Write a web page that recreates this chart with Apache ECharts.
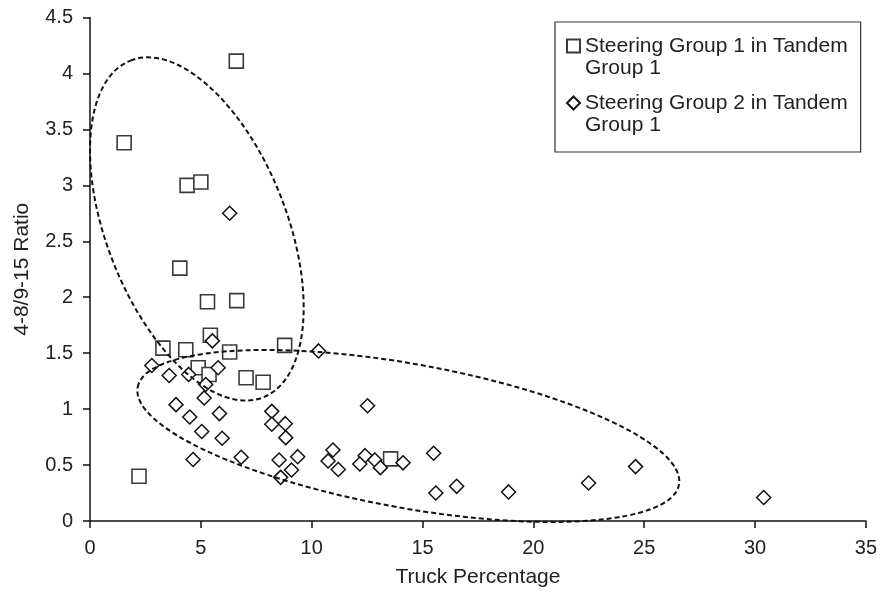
<!DOCTYPE html>
<html>
<head>
<meta charset="utf-8">
<script src="https://cdn.jsdelivr.net/npm/echarts@6/dist/echarts.min.js"></script>
<style>
html,body{margin:0;padding:0;background:#fff;}
#chart{width:880px;height:593px;}
</style>
</head>
<body>
<div id="chart"></div>
<script>
// ---- data ----
const seriesNames = ["Steering Group 1 in Tandem Group 1", "Steering Group 2 in Tandem Group 1"];

const group1X = [6.60, 1.54, 4.38, 5.00, 4.05, 5.30, 6.62, 5.43, 3.29, 4.32, 6.30, 8.78, 4.88, 5.37, 7.04, 7.81, 2.21, 13.56];
const group1Y = [4.11, 3.38, 3.00, 3.03, 2.26, 1.96, 1.97, 1.66, 1.545, 1.53, 1.51, 1.57, 1.37, 1.31, 1.28, 1.24, 0.40, 0.555];

const group2X = [6.30, 5.52, 10.31, 2.79, 3.57, 4.45, 5.78, 5.22, 5.15, 3.88, 4.50, 5.84, 5.04, 5.96, 4.65, 6.82,
                 8.20, 8.20, 8.81, 8.83, 8.53, 9.37, 9.09, 8.60, 10.96, 10.74, 11.20, 12.52, 12.41, 12.17, 12.85, 13.10,
                 14.12, 15.50, 15.60, 16.54, 18.88, 22.49, 24.61, 30.39];
const group2Y = [2.75, 1.61, 1.52, 1.39, 1.30, 1.31, 1.37, 1.22, 1.10, 1.04, 0.93, 0.96, 0.80, 0.74, 0.55, 0.57,
                 0.98, 0.865, 0.87, 0.745, 0.545, 0.575, 0.456, 0.39, 0.635, 0.537, 0.46, 1.03, 0.584, 0.51, 0.546, 0.477,
                 0.52, 0.605, 0.25, 0.31, 0.26, 0.34, 0.486, 0.21];

const xTicks = [0, 5, 10, 15, 20, 25, 30, 35];
const yTicks = [0, 0.5, 1, 1.5, 2, 2.5, 3, 3.5, 4, 4.5];

// annotation ellipses: centre in data units
const ellipseCentreX = [4.82, 14.36];
const ellipseCentreY = [2.61, 0.76];

// ---- build ----
const zip = (xs, ys) => xs.map((x, i) => [x, ys[i]]);
// ellipse geometry (pixels, clockwise degrees)
const ellipseGeom = [{rx: 181, ry: 90, rot: 68.5}, {rx: 275, ry: 72, rot: 10.2}];

const FONT = 'Liberation Sans, Arial, Helvetica, sans-serif';
const chart = echarts.init(document.getElementById('chart'), null, {renderer: 'canvas'});

chart.setOption({
  animation: false,
  backgroundColor: '#fff',
  textStyle: {fontFamily: FONT},
  grid: {left: 90, right: 14, top: 17.5, bottom: 72, containLabel: false},
  xAxis: {
    type: 'value',
    min: xTicks[0], max: xTicks[xTicks.length - 1], interval: 5,
    name: 'Truck Percentage', nameLocation: 'middle', nameGap: 46,
    nameTextStyle: {fontSize: 21, color: '#222', fontFamily: FONT},
    axisLine: {show: true, lineStyle: {color: '#111', width: 1.5}},
    axisTick: {show: true, length: 7, inside: false, lineStyle: {color: '#111', width: 1.5}},
    axisLabel: {fontSize: 20, color: '#222', margin: 17, fontFamily: FONT},
    splitLine: {show: false}
  },
  yAxis: {
    type: 'value',
    min: yTicks[0], max: yTicks[yTicks.length - 1], interval: 0.5,
    name: '4-8/9-15 Ratio', nameLocation: 'middle', nameGap: 57, nameRotate: 90,
    nameTextStyle: {fontSize: 21, color: '#222', fontFamily: FONT},
    axisLine: {show: true, lineStyle: {color: '#111', width: 1.5}},
    axisTick: {show: true, length: 7, inside: false, lineStyle: {color: '#111', width: 1.5}},
    axisLabel: {fontSize: 20, color: '#222', margin: 17, fontFamily: FONT},
    splitLine: {show: false}
  },
  legend: {
    data: seriesNames,
    orient: 'vertical',
    left: 555, top: 22,
    padding: [-9, 13, 16, 11],
    itemGap: -9,
    itemWidth: 13, itemHeight: 13,
    borderColor: '#333', borderWidth: 1.2,
    backgroundColor: '#fff',
    formatter: name => '\n' + name.replace(' in Tandem ', ' in Tandem\n'),
    textStyle: {fontSize: 21, lineHeight: 22, color: '#222', fontFamily: FONT}
  },
  series: [
    {
      name: seriesNames[0],
      type: 'scatter',
      symbol: 'rect',
      symbolSize: 14,
      data: zip(group1X, group1Y),
      itemStyle: {color: '#fff', borderColor: '#3a3a3a', borderWidth: 1.6, opacity: 1},
      z: 3
    },
    {
      name: seriesNames[1],
      type: 'scatter',
      symbol: 'diamond',
      symbolSize: 14,
      data: zip(group2X, group2Y),
      itemStyle: {color: '#fff', borderColor: '#111', borderWidth: 1.5, opacity: 1},
      z: 4
    },
    {
      name: 'ellipses',
      type: 'custom',
      clip: false,
      silent: true,
      z: 5,
      data: zip(ellipseCentreX, ellipseCentreY),
      renderItem: function (params, api) {
        const c = api.coord([api.value(0), api.value(1)]);
        const g = ellipseGeom[params.dataIndex];
        return {
          type: 'ellipse',
          x: c[0], y: c[1],
          rotation: -g.rot * Math.PI / 180,
          shape: {cx: 0, cy: 0, rx: g.rx, ry: g.ry},
          style: {fill: 'none', stroke: '#111', lineWidth: 2, lineDash: [5, 3]}
        };
      }
    }
  ]
});
</script>
</body>
</html>
